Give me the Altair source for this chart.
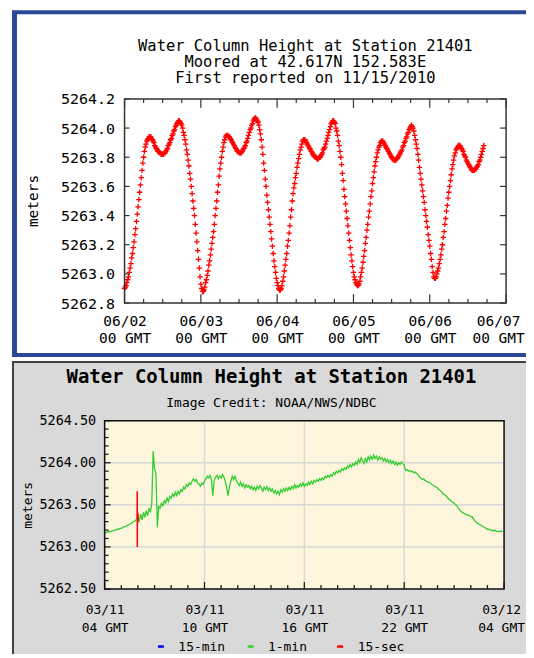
import altair as alt
import pandas as pd

FONT = "DejaVu Sans Mono"

# ================= TOP CHART DATA (15-min samples, from 2011-06-02 00:00 GMT) =================
top_start = "2011-06-02 00:00"
top_heights_jun02 = [
    5262.90, 5262.91, 5262.92, 5262.94, 5262.96, 5262.98, 5263.01, 5263.04,
    5263.07, 5263.11, 5263.14, 5263.18, 5263.22, 5263.27, 5263.31, 5263.36,
    5263.41, 5263.46, 5263.51, 5263.56, 5263.61, 5263.66, 5263.71, 5263.76,
    5263.80, 5263.84, 5263.87, 5263.89, 5263.91, 5263.92, 5263.93, 5263.94,
    5263.94, 5263.94, 5263.93, 5263.92, 5263.91, 5263.90, 5263.88, 5263.87,
    5263.86, 5263.85, 5263.84, 5263.84, 5263.83, 5263.83, 5263.82, 5263.82,
    5263.82, 5263.82, 5263.83, 5263.83, 5263.84, 5263.85, 5263.86, 5263.88,
    5263.89, 5263.90, 5263.92, 5263.93, 5263.95, 5263.96, 5263.98, 5263.99,
    5264.01, 5264.02, 5264.03, 5264.04, 5264.05, 5264.05, 5264.04, 5264.03,
    5264.02, 5264.00, 5263.97, 5263.95, 5263.92, 5263.89, 5263.85, 5263.82,
    5263.78, 5263.74, 5263.69, 5263.65, 5263.60, 5263.55, 5263.50, 5263.45,
    5263.40, 5263.34, 5263.28, 5263.22, 5263.16, 5263.10, 5263.04, 5262.98,
]
top_heights_jun03 = [
    5262.93, 5262.90, 5262.88, 5262.88, 5262.89, 5262.91, 5262.94, 5262.96,
    5262.99, 5263.02, 5263.06, 5263.09, 5263.13, 5263.17, 5263.21, 5263.25,
    5263.29, 5263.34, 5263.40, 5263.45, 5263.50, 5263.56, 5263.61, 5263.67,
    5263.72, 5263.76, 5263.80, 5263.84, 5263.87, 5263.90, 5263.92, 5263.94,
    5263.95, 5263.95, 5263.95, 5263.94, 5263.94, 5263.93, 5263.92, 5263.91,
    5263.90, 5263.89, 5263.88, 5263.87, 5263.86, 5263.85, 5263.84, 5263.84,
    5263.83, 5263.83, 5263.83, 5263.83, 5263.84, 5263.85, 5263.86, 5263.87,
    5263.88, 5263.90, 5263.91, 5263.93, 5263.95, 5263.97, 5263.99, 5264.00,
    5264.02, 5264.03, 5264.05, 5264.06, 5264.07, 5264.07, 5264.06, 5264.05,
    5264.04, 5264.02, 5263.99, 5263.96, 5263.92, 5263.87, 5263.82, 5263.76,
    5263.71, 5263.65, 5263.60, 5263.54, 5263.49, 5263.44, 5263.39, 5263.34,
    5263.29, 5263.24, 5263.19, 5263.14, 5263.09, 5263.05, 5263.01, 5262.97,
]
top_heights_jun04 = [
    5262.94, 5262.92, 5262.90, 5262.89, 5262.89, 5262.90, 5262.92, 5262.95,
    5262.98, 5263.02, 5263.06, 5263.10, 5263.14, 5263.19, 5263.23, 5263.28,
    5263.33, 5263.39, 5263.44, 5263.50, 5263.55, 5263.59, 5263.62, 5263.66,
    5263.69, 5263.73, 5263.76, 5263.79, 5263.82, 5263.85, 5263.87, 5263.89,
    5263.91, 5263.92, 5263.92, 5263.92, 5263.91, 5263.90, 5263.89, 5263.88,
    5263.87, 5263.86, 5263.85, 5263.84, 5263.83, 5263.82, 5263.81, 5263.81,
    5263.80, 5263.80, 5263.79, 5263.79, 5263.79, 5263.80, 5263.80, 5263.81,
    5263.82, 5263.83, 5263.85, 5263.86, 5263.87, 5263.89, 5263.91, 5263.93,
    5263.95, 5263.97, 5263.99, 5264.01, 5264.03, 5264.04, 5264.05, 5264.05,
    5264.04, 5264.03, 5264.00, 5263.98, 5263.95, 5263.91, 5263.88, 5263.84,
    5263.80, 5263.75, 5263.69, 5263.64, 5263.58, 5263.53, 5263.48, 5263.43,
    5263.38, 5263.33, 5263.28, 5263.23, 5263.18, 5263.13, 5263.09, 5263.05,
]
top_heights_jun05 = [
    5263.01, 5262.98, 5262.96, 5262.94, 5262.93, 5262.92, 5262.92, 5262.93,
    5262.95, 5262.98, 5263.01, 5263.04, 5263.08, 5263.12, 5263.16, 5263.21,
    5263.25, 5263.30, 5263.34, 5263.39, 5263.43, 5263.48, 5263.53, 5263.57,
    5263.62, 5263.66, 5263.70, 5263.74, 5263.77, 5263.80, 5263.83, 5263.85,
    5263.87, 5263.88, 5263.90, 5263.91, 5263.91, 5263.91, 5263.90, 5263.89,
    5263.88, 5263.87, 5263.86, 5263.85, 5263.84, 5263.83, 5263.82, 5263.81,
    5263.80, 5263.79, 5263.79, 5263.78, 5263.78, 5263.78, 5263.79, 5263.79,
    5263.80, 5263.81, 5263.82, 5263.83, 5263.84, 5263.85, 5263.87, 5263.88,
    5263.90, 5263.91, 5263.93, 5263.94, 5263.96, 5263.97, 5263.99, 5264.00,
    5264.01, 5264.02, 5264.01, 5264.00, 5263.98, 5263.95, 5263.92, 5263.89,
    5263.86, 5263.82, 5263.78, 5263.73, 5263.69, 5263.65, 5263.61, 5263.57,
    5263.53, 5263.49, 5263.44, 5263.40, 5263.36, 5263.32, 5263.27, 5263.23,
]
top_heights_jun06 = [
    5263.19, 5263.14, 5263.10, 5263.05, 5263.01, 5262.98, 5262.97, 5262.97,
    5262.98, 5263.00, 5263.02, 5263.04, 5263.07, 5263.10, 5263.13, 5263.17,
    5263.20, 5263.25, 5263.29, 5263.34, 5263.38, 5263.43, 5263.47, 5263.52,
    5263.56, 5263.60, 5263.64, 5263.68, 5263.72, 5263.75, 5263.78, 5263.81,
    5263.83, 5263.85, 5263.86, 5263.87, 5263.88, 5263.88, 5263.88, 5263.87,
    5263.86, 5263.85, 5263.84, 5263.82, 5263.81, 5263.80, 5263.78, 5263.77,
    5263.76, 5263.75, 5263.74, 5263.73, 5263.72, 5263.71, 5263.71, 5263.71,
    5263.71, 5263.72, 5263.72, 5263.73, 5263.74, 5263.75, 5263.77, 5263.78,
    5263.80, 5263.82, 5263.84, 5263.86, 5263.88,
]
top_y_ticks = [5262.8, 5263.0, 5263.2, 5263.4, 5263.6, 5263.8, 5264.0, 5264.2]
top_title_lines = ["Water Column Height at Station 21401",
                   "Moored at 42.617N 152.583E",
                   "First reported on 11/15/2010"]

# ================= BOTTOM CHART DATA (2011-03-11 04:00 GMT -> 03-12 04:00 GMT) =================
bot_start = "2011-03-11 04:00"
green_1min = [
    # 04 GMT
    5263.17, 5263.17, 5263.18, 5263.18, 5263.18, 5263.19, 5263.19, 5263.20, 5263.20, 5263.21, 5263.21, 5263.22,
    # 05
    5263.22, 5263.23, 5263.24, 5263.24, 5263.25, 5263.26, 5263.27, 5263.28, 5263.29, 5263.30, 5263.31, 5263.33,
    # 06
    5263.36, 5263.31, 5263.39, 5263.32, 5263.41, 5263.35, 5263.43, 5263.37, 5263.46, 5263.41, 5263.52, 5264.14,
    # 07
    5263.92, 5263.88, 5263.23, 5263.48, 5263.46, 5263.52, 5263.49, 5263.55, 5263.52, 5263.58, 5263.54, 5263.60,
    # 08
    5263.58, 5263.63, 5263.60, 5263.65, 5263.61, 5263.66, 5263.63, 5263.68, 5263.66, 5263.71, 5263.69, 5263.74,
    # 09
    5263.72, 5263.76, 5263.74, 5263.78, 5263.81, 5263.78, 5263.80, 5263.76, 5263.75, 5263.72, 5263.76, 5263.74,
    # 10
    5263.78, 5263.81, 5263.84, 5263.82, 5263.85, 5263.80, 5263.61, 5263.79, 5263.83, 5263.85, 5263.81, 5263.84,
    # 11
    5263.82, 5263.86, 5263.83, 5263.78, 5263.70, 5263.61, 5263.72, 5263.78, 5263.84, 5263.80, 5263.84, 5263.79,
    # 12
    5263.76, 5263.73, 5263.77, 5263.72, 5263.75, 5263.70, 5263.74, 5263.71, 5263.73, 5263.69, 5263.72, 5263.68,
    # 13
    5263.71, 5263.67, 5263.72, 5263.69, 5263.73, 5263.70, 5263.66, 5263.71, 5263.68, 5263.72, 5263.67, 5263.70,
    # 14
    5263.66, 5263.69, 5263.64, 5263.67, 5263.63, 5263.66, 5263.62, 5263.68, 5263.65, 5263.69, 5263.66, 5263.70,
    # 15
    5263.67, 5263.71, 5263.68, 5263.72, 5263.69, 5263.74, 5263.70, 5263.73, 5263.71, 5263.75, 5263.72, 5263.76,
    # 16
    5263.72, 5263.75, 5263.73, 5263.77, 5263.74, 5263.78, 5263.75, 5263.79, 5263.77, 5263.80, 5263.78, 5263.81,
    # 17
    5263.79, 5263.82, 5263.80, 5263.84, 5263.82, 5263.85, 5263.83, 5263.86, 5263.84, 5263.88, 5263.86, 5263.90,
    # 18
    5263.88, 5263.91, 5263.89, 5263.93, 5263.91, 5263.94, 5263.92, 5263.96, 5263.94, 5263.98, 5263.95, 5263.99,
    # 19
    5263.97, 5264.01, 5263.98, 5264.04, 5264.00, 5264.06, 5264.02, 5263.99, 5264.05, 5264.01, 5264.07, 5264.03,
    # 20
    5264.08, 5264.04, 5264.09, 5264.05, 5264.08, 5264.03, 5264.07, 5264.04, 5264.06, 5264.02, 5264.05, 5264.01,
    # 21
    5264.04, 5264.00, 5264.03, 5263.99, 5264.02, 5263.98, 5264.01, 5263.97, 5264.00, 5263.98, 5264.01, 5263.99,
    # 22
    5263.97, 5263.91, 5263.92, 5263.90, 5263.91, 5263.89, 5263.90, 5263.88, 5263.89, 5263.87, 5263.86, 5263.83,
    # 23
    5263.82, 5263.80, 5263.81, 5263.79, 5263.78, 5263.77, 5263.77, 5263.76, 5263.74, 5263.73, 5263.72, 5263.71,
    # 00
    5263.70, 5263.68, 5263.67, 5263.65, 5263.63, 5263.62, 5263.61, 5263.59, 5263.57, 5263.56, 5263.54, 5263.53,
    # 01
    5263.52, 5263.50, 5263.49, 5263.46, 5263.44, 5263.42, 5263.41, 5263.40, 5263.39, 5263.38, 5263.38, 5263.37,
    # 02
    5263.36, 5263.36, 5263.33, 5263.31, 5263.29, 5263.28, 5263.27, 5263.26, 5263.25, 5263.24, 5263.23, 5263.22,
    # 03
    5263.21, 5263.21, 5263.20, 5263.20, 5263.19, 5263.20, 5263.19, 5263.18, 5263.19, 5263.18, 5263.19, 5263.18,
]
red_start = "2011-03-11 05:57:00"
red_15sec = [5263.33, 5263.34, 5263.66, 5263.00, 5263.42, 5263.29, 5263.40, 5263.31,
             5263.38, 5263.28, 5263.41, 5263.32, 5263.37, 5263.30, 5263.39, 5263.33]
bot_y_major = [5262.5, 5263.0, 5263.5, 5264.0, 5264.5]
bot_y_minor = [5262.6, 5262.7, 5262.8, 5262.9, 5263.1, 5263.2, 5263.3, 5263.4,
               5263.6, 5263.7, 5263.8, 5263.9, 5264.1, 5264.2, 5264.3, 5264.4]
series_names = ["15-min", "1-min", "15-sec"]
series_colors = ["#0000ff", "#33cc33", "#ff0000"]
bot_title = "Water Column Height at Station 21401"
bot_subtitle = "Image Credit: NOAA/NWS/NDBC"


def times(start, n, freq):
    return pd.date_range(start, periods=n, freq=freq, tz="UTC").strftime("%Y-%m-%dT%H:%M:%SZ").tolist()


def box(x0, x1, y0, y1, **mk):
    return alt.Chart(alt.Data(values=[{"k": 1}])).mark_rect(**mk).encode(
        x=alt.value(x0), x2=alt.value(x1), y=alt.value(y0), y2=alt.value(y1))


def xrule(df, y0, y1, xenc, color="#333", sw=1.2):
    return alt.Chart(df).mark_rule(color=color, strokeWidth=sw).encode(
        x=xenc, y=alt.value(y0), y2=alt.value(y1))


def yrule(df, x0, x1, yenc, color="#333", sw=1.2):
    return alt.Chart(df).mark_rule(color=color, strokeWidth=sw).encode(
        y=yenc, x=alt.value(x0), x2=alt.value(x1))


LABEL_EXPR = "[utcFormat(datum.value, '%m/%d'), utcFormat(datum.value, '%H GMT')]"

# ---------------- TOP CHART ----------------
# the group is 403 px wide; the data rectangle occupies x = 20..403 inside it
W1, H1, L1 = 403, 205, 20
top_vals = top_heights_jun02 + top_heights_jun03 + top_heights_jun04 + top_heights_jun05 + top_heights_jun06
top_df = pd.DataFrame({"t": times(top_start, len(top_vals), "15min"), "h": top_vals})
top_days = [alt.DateTime(year=2011, month=6, date=d, hours=0, utc=True) for d in range(2, 8)]
top_xenc = alt.X("t:T", scale=alt.Scale(type="utc", domain=[top_days[0], top_days[-1]], range=[L1, W1]),
                 axis=alt.Axis(
    values=top_days, labelExpr=LABEL_EXPR, labelFont=FONT, labelFontSize=14.5, labelColor="black",
    labelLineHeight=18, labelPadding=11, ticks=False, tickSize=0, domain=False, grid=False,
    labelOffset={"condition": {"test": "datum.value >= utc(2011, 5, 7)", "value": -8}, "value": 0},
    labelFlush=False, labelOverlap=False, title=None, zindex=1))
top_yenc = alt.Y("h:Q", scale=alt.Scale(domain=[5262.8, 5264.2], zero=False, nice=False), axis=alt.Axis(
    values=top_y_ticks, format=".1f", labelFont=FONT, labelFontSize=15, labelColor="black", offset=-L1,
    labelPadding=10, ticks=False, tickSize=0, domain=False, grid=False, labelFlush=False,
    labelOverlap=False, title="meters", titleFont=FONT, titleFontSize=14.5, titleFontWeight="normal",
    titleColor="black", titleX=-91, titleY=102, titleAlign="center", titleBaseline="middle", zindex=1))

top_points = alt.Chart(top_df).mark_point(
    shape="M-1,0L1,0M0,-1L0,1", size=30, filled=False, color="#ff0000", strokeWidth=1.3, opacity=1
).encode(x=top_xenc, y=top_yenc)

top_tick_df = pd.DataFrame({"t": times(top_start, 21, "6h")})
top_major_df = top_tick_df.iloc[::4]
top_minor_df = top_tick_df.drop(top_tick_df.index[::4])
ytick_df = pd.DataFrame({"h": top_y_ticks})

top = alt.layer(
    box(-93, 430, -89, 259, color="#2a4896"),
    box(-88, 430, -85, 255, color="#ffffff"),
    top_points,
    yrule(ytick_df, L1, L1 + 5, top_yenc),
    yrule(ytick_df, W1 - 6, W1, top_yenc),
    xrule(top_major_df, 0, 9, top_xenc),
    xrule(top_minor_df, 0, 4, top_xenc),
    xrule(top_major_df, H1 - 9, H1, top_xenc),
    xrule(top_minor_df, H1 - 4, H1, top_xenc),
    box(L1, W1, 0, H1, filled=False, color="#333333", strokeWidth=1.5),
).properties(
    width=W1, height=H1,
    title=alt.TitleParams(text=top_title_lines, font=FONT, fontSize=15.5, fontWeight="normal", color="black",
                          lineHeight=16.5, anchor="middle", frame="group", offset=-77, dx=0, zindex=1),
)

# ---------------- BOTTOM CHART ----------------
W2, H2 = 401, 169
green_df = pd.DataFrame({"t": times(bot_start, len(green_1min), "5min"), "h": green_1min, "series": "1-min"})
red_df = pd.DataFrame({"t": times(red_start, len(red_15sec), "15s"), "h": red_15sec, "series": "15-sec"})
bot_x_values = [alt.DateTime(year=2011, month=3, date=11, hours=h, utc=True) for h in (4, 10, 16, 22)] + \
               [alt.DateTime(year=2011, month=3, date=12, hours=4, utc=True)]
bot_xenc = alt.X("t:T", scale=alt.Scale(type="utc", domain=[bot_x_values[0], bot_x_values[-1]]), axis=alt.Axis(
    values=bot_x_values, labelExpr=LABEL_EXPR, labelFont=FONT, labelFontSize=13, labelColor="black",
    labelLineHeight=18, labelPadding=15, ticks=False, tickSize=0, domain=False, grid=False,
    labelOffset={"condition": {"test": "datum.value >= utc(2011, 2, 12)", "value": -3}, "value": 0},
    labelFlush=False, labelOverlap=False, title=None, zindex=1))
bot_yenc = alt.Y("h:Q", scale=alt.Scale(domain=[5262.5, 5264.5], zero=False, nice=False), axis=alt.Axis(
    values=bot_y_major, format=".2f", labelFont=FONT, labelFontSize=13.5, labelColor="black",
    labelPadding=9, ticks=False, tickSize=0, domain=False, grid=False, labelFlush=False,
    labelOverlap=False, title="meters", titleFont=FONT, titleFontSize=13, titleFontWeight="normal",
    titleColor="black", titleX=-77, titleY=84.5, titleAlign="center", titleBaseline="middle", zindex=1))
color_enc = alt.Color("series:N", scale=alt.Scale(domain=series_names, range=series_colors), legend=alt.Legend(
    orient="none", legendX=50, legendY=220, direction="horizontal", title=None, symbolType="stroke",
    symbolSize=36, symbolStrokeWidth=2.5, labelFont=FONT, labelFontSize=13, labelColor="black",
    labelOffset=11, columnPadding=17, gridAlign="all", padding=0, zindex=1))

green_line = alt.Chart(green_df).mark_line(strokeWidth=1.3).encode(x=bot_xenc, y=bot_yenc, color=color_enc)
red_line = alt.Chart(red_df).mark_line(strokeWidth=1.5).encode(x=bot_xenc, y=bot_yenc, color=color_enc)

bot_tick_df = pd.DataFrame({"t": times(bot_start, 25, "1h")})
bot_major_df = bot_tick_df.iloc[::6]
bot_minor_df = bot_tick_df.drop(bot_tick_df.index[::6])
bmaj = pd.DataFrame({"h": bot_y_major})
bmin = pd.DataFrame({"h": bot_y_minor})

bottom = alt.layer(
    box(-93, 430, -60, 240, color="#404040"),
    box(-91, 430, -58, 240, color="#d9d9d9"),
    box(0, W2, 0, H2, color="#fdf6dc"),
    yrule(bmaj, 0, W2, bot_yenc, color="#d8d8d8", sw=1.5),
    xrule(bot_major_df, 0, H2, bot_xenc, color="#d8d8d8", sw=1.5),
    green_line,
    red_line,
    yrule(bmaj, 0, 6, bot_yenc, color="#222", sw=1.3),
    yrule(bmin, 0, 4, bot_yenc, color="#222", sw=1.3),
    xrule(bot_major_df, H2 - 7, H2, bot_xenc, color="#222", sw=1.3),
    xrule(bot_minor_df, H2 - 4, H2, bot_xenc, color="#222", sw=1.3),
    box(0, W2, 0, H2, filled=False, color="#111111", strokeWidth=1.5),
).properties(
    width=W2, height=H2,
    title=alt.TitleParams(text=bot_title, subtitle=bot_subtitle, font=FONT, fontSize=19, fontWeight="bold",
                          color="black", subtitleFont=FONT, subtitleFontSize=13, subtitleColor="black",
                          subtitlePadding=10, anchor="middle", frame="group", offset=-49, dx=-33, zindex=1),
)

# the panels run off the right and bottom edges, as in the reference screenshot
chart = alt.concat(top, bottom, columns=1, spacing=2).resolve_scale(
    x="independent", y="independent", color="independent"
).properties(
    padding={"left": 3, "top": 0, "right": -8, "bottom": -8},
).configure(background="#ffffff").configure_view(stroke="transparent")

chart.save("out.html", embed_options={"renderer": "svg", "actions": False})
